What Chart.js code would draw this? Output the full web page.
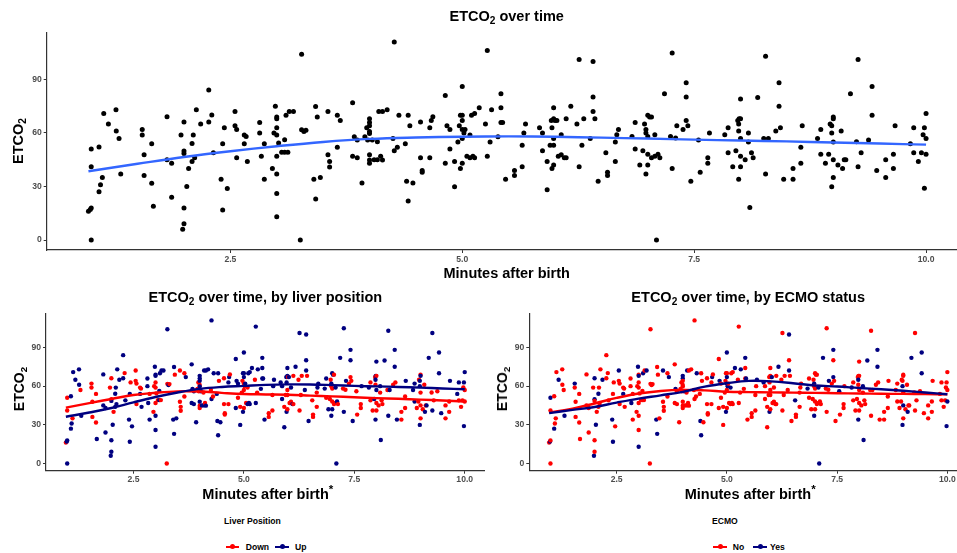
<!DOCTYPE html>
<html><head><meta charset="utf-8">
<script src="https://cdn.jsdelivr.net/npm/chart.js@4.4.1/dist/chart.umd.min.js"></script>
<style>
html,body{margin:0;padding:0;background:#fff;width:957px;height:553px;overflow:hidden;position:relative;font-family:"Liberation Sans",Arial,sans-serif;}
canvas{position:absolute;}
.t{position:absolute;font-weight:bold;color:#000;white-space:nowrap;line-height:1;}
.c{transform:translate(-50%,-50%);}
.l{transform:translateY(-50%);}
.rot{transform:translate(-50%,-50%) rotate(-90deg);}
sub{font-size:70%;vertical-align:-0.28em;line-height:0;}
.key{position:absolute;height:2px;width:13.4px;}
.dot{position:absolute;width:5px;height:5px;border-radius:50%;}
</style></head><body>
<canvas id="top" width="980" height="266" style="left:0;top:0;"></canvas>
<canvas id="liver" width="500" height="196" style="left:0;top:290px;"></canvas>
<canvas id="ecmo" width="490" height="196" style="left:490px;top:290px;"></canvas>

<div class="t c" style="left:506.7px;top:16px;font-size:14.5px;">ETCO<sub>2</sub> over time</div>
<div class="t c" style="left:506.7px;top:272.5px;font-size:14.5px;">Minutes after birth</div>
<div class="t rot" style="left:18px;top:141px;font-size:14.5px;">ETCO<sub>2</sub></div>

<div class="t c" style="left:265.3px;top:297px;font-size:14.5px;">ETCO<sub>2</sub> over time, by liver position</div>
<div class="t c" style="left:748.2px;top:297px;font-size:14.5px;">ETCO<sub>2</sub> over time, by ECMO status</div>
<div class="t l" style="left:202.3px;top:492px;font-size:14.5px;">Minutes after birth<sup style="font-size:80%;">*</sup></div>
<div class="t l" style="left:684.7px;top:492px;font-size:14.5px;">Minutes after birth<sup style="font-size:80%;">*</sup></div>
<div class="t rot" style="left:19px;top:389px;font-size:14px;">ETCO<sub>2</sub></div>
<div class="t rot" style="left:502px;top:389px;font-size:14px;">ETCO<sub>2</sub></div>

<div class="t l" style="left:224px;top:521px;font-size:8.6px;">Liver Position</div>
<div class="key" style="left:226px;top:545.7px;background:#FF0000;"></div><div class="dot" style="left:230.2px;top:544.2px;background:#FF0000;"></div>
<div class="t l" style="left:245.7px;top:547px;font-size:8.6px;">Down</div>
<div class="key" style="left:275.3px;top:545.7px;background:#000080;"></div><div class="dot" style="left:279.5px;top:544.2px;background:#000080;"></div>
<div class="t l" style="left:295px;top:547px;font-size:8.6px;">Up</div>

<div class="t l" style="left:712px;top:521px;font-size:8.6px;">ECMO</div>
<div class="key" style="left:713.3px;top:545.7px;background:#FF0000;"></div><div class="dot" style="left:717.5px;top:544.2px;background:#FF0000;"></div>
<div class="t l" style="left:732.7px;top:547px;font-size:8.6px;">No</div>
<div class="key" style="left:753.3px;top:545.7px;background:#000080;"></div><div class="dot" style="left:757.5px;top:544.2px;background:#000080;"></div>
<div class="t l" style="left:770px;top:547px;font-size:8.6px;">Yes</div>

<script>
const xTicks = [2.5, 5, 7.5, 10];
const yTicks = [0, 30, 60, 90];

const minutes = [
0.97,0.99,1.0,1.0,1.0,1.0,1.084,1.084,1.10,1.12,
1.135,1.185,1.267,1.27,1.30,1.318,1.55,1.55,1.57,1.57,
1.652,1.652,1.67,1.817,1.817,1.867,1.867,1.968,1.986,2.0,
2.0,2.0,2.0,2.0,2.03,2.05,2.087,2.10,2.087,2.115,
2.133,2.18,2.267,2.267,2.30,2.317,2.40,2.417,2.417,2.435,
2.467,2.55,2.55,2.568,2.568,2.65,2.67,2.65,2.683,2.816,
2.816,2.834,2.866,2.866,2.953,2.97,2.985,3.0,3.0,3.0,
3.0,3.0,3.0,3.0,3.0,3.02,3.268,3.254,3.268,3.293,
3.315,3.085,3.10,3.135,3.18,3.053,3.085,3.12,3.419,3.437,
3.40,3.47,3.42,3.552,3.552,3.57,3.57,3.653,3.685,3.653,
3.818,3.836,3.818,3.868,3.868,3.919,3.95,3.97,3.98,4.0,
4.0,4.0,4.0,4.0,4.0,4.0,4.0,4.05,4.085,4.12,
4.14,4.03,4.085,4.10,4.14,4.19,4.267,4.253,4.267,4.30,
4.317,4.386,4.40,4.417,4.417,4.435,4.468,4.55,4.55,4.568,
4.568,4.65,4.65,4.666,4.683,4.817,4.817,4.835,4.867,4.867,
4.917,4.917,4.968,4.98,5.0,5.0,5.0,5.0,5.0,5.018,
5.03,5.0,4.98,4.953,5.05,5.083,5.083,5.115,5.133,5.10,
5.133,5.183,5.25,5.27,5.27,5.30,5.316,5.385,5.417,5.417,
5.417,5.435,5.467,5.563,5.563,5.646,5.646,5.664,5.682,5.833,
5.865,5.865,5.915,5.915,5.947,5.96,5.985,6.0,6.02,5.967,
5.985,5.985,5.985,5.967,5.985,6.035,6.067,6.067,6.10,6.12,
6.12,6.17,6.236,6.26,6.26,6.29,6.31,6.38,6.41,6.41,
6.41,6.43,6.465,6.548,6.566,6.566,6.65,6.65,6.666,6.684,
6.83,6.864,6.864,6.914,6.947,6.965,6.98,6.98,6.98,7.0,
7.0,7.02,7.04,7.0,7.0,7.076,7.04,7.076,7.11,7.13,
7.094,7.18,7.245,7.263,7.263,7.3,7.313,7.38,7.414,7.414,
7.414,7.432,7.464,7.547,7.565,7.647,7.647,7.665,7.83,7.866,
7.866,7.916,7.95,7.97,7.985,8.0,7.98,7.98,8.0,8.0,
8.0,8.0,7.98,8.05,8.085,8.085,8.10,8.118,8.136,8.185,
8.25,8.30,8.27,8.27,8.38,8.415,8.415,8.43,8.465,8.566,
8.566,8.65,8.65,8.665,8.83,8.865,8.865,8.915,8.95,8.966,
8.983,8.983,9.0,9.0,9.0,9.0,9.0,8.983,9.05,9.085,
9.10,9.118,9.135,9.185,9.25,9.267,9.267,9.30,9.38,9.418,
9.418,9.468,9.565,9.565,9.648,9.648,9.666,9.831,9.867,9.867,
9.917,9.95,9.968,9.982,10.0,10.0,10.0,9.982
];

const etco2 = [
16.2,17.1,17.9,0,50.9,41.1,52.1,27,31,35,
70.8,64.9,72.9,61,56.9,37,61.9,58.8,47.8,36.1,
53.9,31.8,19,69,45,43,24,58.8,6,66,
18,9.1,49.8,48.5,30,40,54,58.8,43.9,46,
72.9,64.9,83.9,66,70,48.9,34,53.9,16.9,62.8,
28.8,72,64,61.9,46,58.8,58,53.9,43.9,65.8,
59.9,46.9,53.9,34,40,59.9,74.9,68.8,67.9,62.8,
58.8,46.9,37,26,13,54.3,103.9,0,61.7,60.8,
61.5,56.2,69.9,72,72,49.1,49.1,49.1,74.7,68.8,
34,35,23,72,47.8,43.9,40.9,69.9,66.9,51.9,
76.8,57.8,46.9,56,46,32,57.8,62.8,56,67.9,
65.8,64,60.8,59.7,47.8,44.8,43,45,45,46.9,
44.8,56,55,72,72,72.9,110.8,56.9,50,51.9,
69.9,53.9,32.9,69.9,21.9,64,32,66,46,39,
37.9,62.8,46,66.9,69,80.9,43,64,50.9,61.9,
43.9,29.9,64,69.9,69.9,66.9,85.9,61.9,56.9,59.9,
61.9,43,40,54.9,46.9,46,58.8,46.9,46,69.9,
70.8,74,64.9,106,46.9,54.9,72.9,57.8,81.8,74,
65.8,65.8,34,39,36.1,53,41.1,59.9,64.9,62.8,
59.9,50,43.9,28.1,53,66.9,67.9,66.9,66.9,62.8,
74,56.9,53,40,42,46.9,47.8,58.9,46,46,
67.9,74.9,64.9,101,41.1,53,67.9,56.9,99.9,80,
72,67.9,32.9,48.9,37.9,36.1,43.9,54.9,58.9,61.9,
58,65.8,50.9,42,50,64.9,37,61.9,59.9,58,
69.9,68.8,68.8,48,42,58.9,46,46.9,48,46,
0,81.8,58,104.7,40,57.1,64,61.9,66.9,80,
88,64,32.9,56,37.9,46,43,59.9,58.9,62.8,
48.9,41.1,50,66.9,67.9,67.9,61,64.9,78.9,56.9,
46.9,41.1,34,45,59.9,54.9,18.2,48.9,46,79.8,
56.9,56.9,37,102.8,61,88,74.9,62.8,34,40,
34,51.9,43,64,56.9,61.9,48,43,48,64.9,
64,59.9,68.8,67.9,54.9,45,35,29.9,42,61,
40,45,45,81.8,55,101,41.1,48.9,56,85.9,
69.9,39,45,35,48,40,64,53.9,62.8,48.9,
43.9,48.9,58.9,62.8,70.8,56.9,48,29
];

// Liver position per point: D = Down, U = Up
const liverPosition = (
"DUUUDDUUUD"+"UUUUDUDDDD"+"DDUUUUUDUD"+"UUDUUDUUUU"+"UUUUDUUUUD"+
"UDDDDDDUUU"+"UUDUDDUUUD"+"DDUUUDUDDU"+"DUUUUDUDUD"+"UUUDDDDDUD"+
"UUUUUUDDDU"+"UUDUUDDUUD"+"UUDUUUUDUD"+"UUUUUDUDDD"+"DUDUDUUUDU"+
"DUDUUUUDDD"+"UDUDDUDUUU"+"UUDUUDUUUU"+"UUUDDDDUUU"+"UUDUDUUDUU"+
"UDDUDDDUUD"+"DUDUDDDUUU"+"UDUDDDDDUU"+"UUDUDDUUDD"+"UUDDUUDDUD"+
"UUDUUDUDDU"+"UDUDDDDUUD"+"DDUDUDDUUU"+"DDUDUDUDDU"+"DUUUDUUDUD"+
"DDDUUUUDDD"+"UUDUDDDUDD"+"UDUUDUUDDU"+"UUDDDDUUUD"+"DDDUUDDU").split("");

// ECMO per point: N = No, Y = Yes
const ecmoStatus = (
"NYNNYNNYNN"+"NYNNNYYNNN"+"NNNNNNNNYY"+"NNYNYNYNNN"+"NYNNNNYNYN"+
"NYNNNNNYNN"+"NYNNNNYNYN"+"NNNNYNNNNN"+"NNYNYNNNNN"+"YNYYNNNNYN"+
"NYNNNNNNNY"+"YNNNNNNNNN"+"NYNYNNNNNN"+"YNYNYNNNNN"+"NNNYNNNYNN"+
"NNNNNYYYNY"+"NNYNNNYNNN"+"NYNNNNYNYN"+"NYNNNNNNYY"+"NNNNNNNNYN"+
"NNNYNNNNNN"+"NYNNNNNNYN"+"YNNYNNNNNN"+"YNNNNNYYNN"+"NNNNNYNNNN"+
"YYNNNNYNYN"+"YNNYNNNNYN"+"NNNNNNNYNN"+"NNYNYNYNNY"+"NNNNNYYNNN"+
"NNNNNNNNNN"+"NYNNNYNYNN"+"YNNYNNNNNY"+"YNNNNNNNNN"+"NNNNNNYY").split("");

// Smoothed (loess) curves
const smoothMinutes = [0.97,1.5,2,2.5,3,3.5,4,4.5,5,5.5,6,6.5,7,7.5,8,8.5,9,9.5,10];
const fitAll       = [38.5,42.7,46.5,49.7,52.5,54.9,56.6,57.4,57.8,58.0,57.8,57.3,56.8,56.2,55.7,55.2,54.6,54.0,53.4];
const fitLiverDown = [43.3,46.8,50.0,53.1,54.8,55.9,55.8,54.7,53.8,53.5,53.2,52.6,52.0,51.3,50.6,50.1,49.5,48.8,48.0];
const fitLiverUp   = [36.2,39.5,43.0,47.4,51.5,55.0,57.8,59.3,60.1,60.9,61.3,61.2,60.7,60.1,59.7,59.3,58.8,58.1,57.5];
const fitEcmoNo    = [39.5,42.5,46.5,50.8,54.2,56.2,57.0,56.6,55.6,55.3,55.1,54.9,54.7,54.4,54.2,54.0,53.9,53.7,53.6];
const fitEcmoYes   = [39.0,41.5,43.8,47.2,50.3,52.8,55.5,59.5,62.2,64.0,63.6,62.2,60.4,59.6,58.5,57.5,56.3,55.0,53.6];

const RED = '#FF0000', NAVY = '#000080', BLUE = '#3366FF';
const FONT = '"Liberation Sans", Arial, sans-serif';

const points = () => minutes.map((m, i) => ({x: m, y: etco2[i]}));
const curve = ys => smoothMinutes.map((m, i) => ({x: m, y: ys[i]}));

function scales(yWidth, xHeight) {
  const tickFont = {family: FONT, size: 8.6, weight: 'bold'};
  const grid = {drawOnChartArea: false, drawTicks: true, tickLength: 3, color: '#333', lineWidth: 1};
  const border = {display: true, color: '#333', width: 1.2};
  return {
    x: {type: 'linear', min: 0.52, max: 10.45, grid, border,
        afterBuildTicks: s => { s.ticks = xTicks.map(v => ({value: v})); },
        ticks: {font: tickFont, color: '#4D4D4D', padding: 1, maxRotation: 0, autoSkip: false,
                callback: v => Number(v).toFixed(1)},
        afterFit: s => { s.height = xHeight; }},
    y: {type: 'linear', min: -5.54, max: 116.3, grid, border,
        afterBuildTicks: s => { s.ticks = yTicks.map(v => ({value: v})); },
        ticks: {font: tickFont, color: '#4D4D4D', padding: 2, autoSkip: false,
                callback: v => String(v)},
        afterFit: s => { s.width = yWidth; }}
  };
}

function lineSet(ys, color, order) {
  return {type: 'line', data: curve(ys), borderColor: color, borderWidth: 2.4,
          pointRadius: 0, tension: 0.4, fill: false, order};
}

function build(id, datasets, pad, yWidth, xHeight) {
  new Chart(document.getElementById(id), {
    type: 'scatter',
    data: {datasets},
    options: {
      responsive: false, animation: false, devicePixelRatio: 1, events: [],
      layout: {padding: pad},
      plugins: {legend: {display: false}, tooltip: {enabled: false}, title: {display: false}},
      scales: scales(yWidth, xHeight)
    }
  });
}

// Top: all points
build('top', [
  {data: points(), pointRadius: 2.5, pointBackgroundColor: '#000', pointBorderWidth: 0, order: 2},
  lineSet(fitAll, BLUE, 0)
], {left: 0, top: 32.2, right: 12.2, bottom: 0}, 46.7, 16);

// Bottom left: by liver position
build('liver', [
  {data: points(), pointRadius: 2.2, pointBorderWidth: 0,
   pointBackgroundColor: liverPosition.map(g => g === 'U' ? NAVY : RED), order: 3},
  lineSet(fitLiverDown, RED, 1),
  lineSet(fitLiverUp, NAVY, 0)
], {left: 0, top: 23.3, right: 15.4, bottom: 0}, 46, 15.3);

// Bottom right: by ECMO status
build('ecmo', [
  {data: points(), pointRadius: 2.2, pointBorderWidth: 0,
   pointBackgroundColor: ecmoStatus.map(g => g === 'Y' ? NAVY : RED), order: 3},
  lineSet(fitEcmoNo, RED, 1),
  lineSet(fitEcmoYes, NAVY, 0)
], {left: 0, top: 23.3, right: 12.8, bottom: 0}, 39.3, 15.3);
</script>
</body></html>
